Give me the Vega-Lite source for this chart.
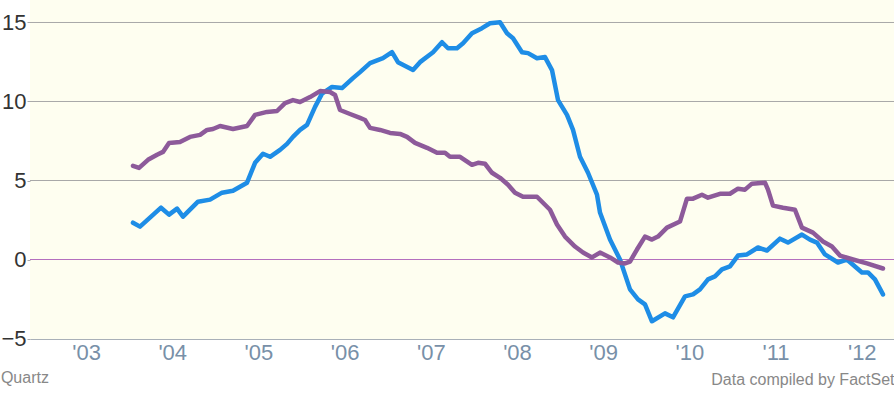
{
  "$schema": "https://vega.github.io/schema/vega-lite/v6.json",
  "width": 864,
  "height": 339,
  "autosize": "none",
  "padding": {"left": 30, "top": 0, "right": 0, "bottom": 57},
  "background": "white",
  "config": {
    "view": {"fill": "#fefef0", "stroke": null},
    "font": "Liberation Sans"
  },
  "title": {
    "text": "Quartz",
    "orient": "bottom",
    "anchor": "start",
    "frame": "bounds",
    "fontSize": 16,
    "fontWeight": "normal",
    "color": "#888888",
    "offset": -17
  },
  "encoding": {
    "y": {
      "field": "v",
      "type": "quantitative",
      "scale": {"domain": [-5.0316, 16.424], "nice": false, "zero": false},
      "axis": {
        "values": [-5, 0, 5, 10, 15],
        "format": "d",
        "grid": false,
        "domain": false,
        "ticks": true,
        "tickSize": 3,
        "tickColor": "#aaaaaa",
        "labelFontSize": 22,
        "labelColor": "#333333",
        "labelPadding": 1,
        "title": null
      }
    }
  },
  "layer": [
    {
      "data": {"values": [{"v": 5}, {"v": 10}, {"v": 15}]},
      "mark": {"type": "rule", "color": "#a8a8a8", "strokeWidth": 1}
    },
    {
      "data": {"values": [{"v": 0}]},
      "mark": {"type": "rule", "color": "#b46fbe", "strokeWidth": 1}
    },
    {
      "data": {
        "values": [
          {"t": 2003.545, "v": 2.33, "s": "A"},
          {"t": 2003.626, "v": 2.08, "s": "A"},
          {"t": 2003.870, "v": 3.28, "s": "A"},
          {"t": 2003.963, "v": 2.84, "s": "A"},
          {"t": 2004.056, "v": 3.22, "s": "A"},
          {"t": 2004.125, "v": 2.71, "s": "A"},
          {"t": 2004.299, "v": 3.66, "s": "A"},
          {"t": 2004.439, "v": 3.79, "s": "A"},
          {"t": 2004.578, "v": 4.23, "s": "A"},
          {"t": 2004.705, "v": 4.35, "s": "A"},
          {"t": 2004.868, "v": 4.86, "s": "A"},
          {"t": 2004.961, "v": 6.12, "s": "A"},
          {"t": 2005.053, "v": 6.69, "s": "A"},
          {"t": 2005.135, "v": 6.5, "s": "A"},
          {"t": 2005.251, "v": 6.94, "s": "A"},
          {"t": 2005.332, "v": 7.32, "s": "A"},
          {"t": 2005.401, "v": 7.76, "s": "A"},
          {"t": 2005.483, "v": 8.2, "s": "A"},
          {"t": 2005.564, "v": 8.52, "s": "A"},
          {"t": 2005.657, "v": 9.66, "s": "A"},
          {"t": 2005.738, "v": 10.5, "s": "A"},
          {"t": 2005.854, "v": 10.92, "s": "A"},
          {"t": 2005.970, "v": 10.85, "s": "A"},
          {"t": 2006.097, "v": 11.48, "s": "A"},
          {"t": 2006.179, "v": 11.86, "s": "A"},
          {"t": 2006.295, "v": 12.43, "s": "A"},
          {"t": 2006.445, "v": 12.74, "s": "A"},
          {"t": 2006.550, "v": 13.12, "s": "A"},
          {"t": 2006.619, "v": 12.49, "s": "A"},
          {"t": 2006.794, "v": 11.99, "s": "A"},
          {"t": 2006.875, "v": 12.49, "s": "A"},
          {"t": 2007.026, "v": 13.12, "s": "A"},
          {"t": 2007.130, "v": 13.75, "s": "A"},
          {"t": 2007.200, "v": 13.37, "s": "A"},
          {"t": 2007.304, "v": 13.37, "s": "A"},
          {"t": 2007.374, "v": 13.69, "s": "A"},
          {"t": 2007.478, "v": 14.32, "s": "A"},
          {"t": 2007.594, "v": 14.64, "s": "A"},
          {"t": 2007.687, "v": 14.95, "s": "A"},
          {"t": 2007.803, "v": 15.02, "s": "A"},
          {"t": 2007.884, "v": 14.32, "s": "A"},
          {"t": 2007.954, "v": 14.0, "s": "A"},
          {"t": 2008.058, "v": 13.12, "s": "A"},
          {"t": 2008.128, "v": 13.06, "s": "A"},
          {"t": 2008.232, "v": 12.74, "s": "A"},
          {"t": 2008.325, "v": 12.81, "s": "A"},
          {"t": 2008.406, "v": 11.99, "s": "A"},
          {"t": 2008.476, "v": 10.09, "s": "A"},
          {"t": 2008.580, "v": 9.15, "s": "A"},
          {"t": 2008.650, "v": 8.2, "s": "A"},
          {"t": 2008.731, "v": 6.5, "s": "A"},
          {"t": 2008.824, "v": 5.49, "s": "A"},
          {"t": 2008.928, "v": 4.1, "s": "A"},
          {"t": 2008.963, "v": 2.97, "s": "A"},
          {"t": 2009.079, "v": 1.26, "s": "A"},
          {"t": 2009.195, "v": 0.0, "s": "A"},
          {"t": 2009.311, "v": -1.89, "s": "A"},
          {"t": 2009.404, "v": -2.52, "s": "A"},
          {"t": 2009.485, "v": -2.84, "s": "A"},
          {"t": 2009.566, "v": -3.91, "s": "A"},
          {"t": 2009.717, "v": -3.41, "s": "A"},
          {"t": 2009.810, "v": -3.66, "s": "A"},
          {"t": 2009.949, "v": -2.33, "s": "A"},
          {"t": 2010.042, "v": -2.21, "s": "A"},
          {"t": 2010.123, "v": -1.89, "s": "A"},
          {"t": 2010.216, "v": -1.26, "s": "A"},
          {"t": 2010.297, "v": -1.07, "s": "A"},
          {"t": 2010.378, "v": -0.63, "s": "A"},
          {"t": 2010.471, "v": -0.44, "s": "A"},
          {"t": 2010.564, "v": 0.25, "s": "A"},
          {"t": 2010.668, "v": 0.32, "s": "A"},
          {"t": 2010.796, "v": 0.76, "s": "A"},
          {"t": 2010.900, "v": 0.57, "s": "A"},
          {"t": 2011.051, "v": 1.32, "s": "A"},
          {"t": 2011.144, "v": 1.07, "s": "A"},
          {"t": 2011.306, "v": 1.58, "s": "A"},
          {"t": 2011.399, "v": 1.26, "s": "A"},
          {"t": 2011.480, "v": 1.07, "s": "A"},
          {"t": 2011.573, "v": 0.32, "s": "A"},
          {"t": 2011.724, "v": -0.19, "s": "A"},
          {"t": 2011.828, "v": 0.0, "s": "A"},
          {"t": 2011.921, "v": -0.44, "s": "A"},
          {"t": 2012.002, "v": -0.82, "s": "A"},
          {"t": 2012.072, "v": -0.82, "s": "A"},
          {"t": 2012.153, "v": -1.26, "s": "A"},
          {"t": 2012.246, "v": -2.21, "s": "A"},

          {"t": 2003.545, "v": 5.93, "s": "B"},
          {"t": 2003.615, "v": 5.8, "s": "B"},
          {"t": 2003.719, "v": 6.31, "s": "B"},
          {"t": 2003.824, "v": 6.63, "s": "B"},
          {"t": 2003.893, "v": 6.81, "s": "B"},
          {"t": 2003.963, "v": 7.38, "s": "B"},
          {"t": 2004.090, "v": 7.44, "s": "B"},
          {"t": 2004.206, "v": 7.76, "s": "B"},
          {"t": 2004.323, "v": 7.89, "s": "B"},
          {"t": 2004.404, "v": 8.2, "s": "B"},
          {"t": 2004.473, "v": 8.26, "s": "B"},
          {"t": 2004.555, "v": 8.45, "s": "B"},
          {"t": 2004.705, "v": 8.26, "s": "B"},
          {"t": 2004.868, "v": 8.45, "s": "B"},
          {"t": 2004.961, "v": 9.15, "s": "B"},
          {"t": 2005.100, "v": 9.34, "s": "B"},
          {"t": 2005.216, "v": 9.4, "s": "B"},
          {"t": 2005.309, "v": 9.9, "s": "B"},
          {"t": 2005.401, "v": 10.09, "s": "B"},
          {"t": 2005.483, "v": 9.97, "s": "B"},
          {"t": 2005.599, "v": 10.28, "s": "B"},
          {"t": 2005.715, "v": 10.66, "s": "B"},
          {"t": 2005.831, "v": 10.6, "s": "B"},
          {"t": 2005.889, "v": 10.41, "s": "B"},
          {"t": 2005.947, "v": 9.46, "s": "B"},
          {"t": 2006.063, "v": 9.21, "s": "B"},
          {"t": 2006.179, "v": 8.96, "s": "B"},
          {"t": 2006.237, "v": 8.83, "s": "B"},
          {"t": 2006.295, "v": 8.33, "s": "B"},
          {"t": 2006.411, "v": 8.2, "s": "B"},
          {"t": 2006.527, "v": 8.01, "s": "B"},
          {"t": 2006.643, "v": 7.95, "s": "B"},
          {"t": 2006.724, "v": 7.76, "s": "B"},
          {"t": 2006.817, "v": 7.38, "s": "B"},
          {"t": 2006.956, "v": 7.07, "s": "B"},
          {"t": 2007.072, "v": 6.75, "s": "B"},
          {"t": 2007.165, "v": 6.75, "s": "B"},
          {"t": 2007.223, "v": 6.5, "s": "B"},
          {"t": 2007.339, "v": 6.5, "s": "B"},
          {"t": 2007.478, "v": 5.99, "s": "B"},
          {"t": 2007.548, "v": 6.12, "s": "B"},
          {"t": 2007.629, "v": 6.06, "s": "B"},
          {"t": 2007.710, "v": 5.49, "s": "B"},
          {"t": 2007.803, "v": 5.17, "s": "B"},
          {"t": 2007.896, "v": 4.73, "s": "B"},
          {"t": 2007.977, "v": 4.23, "s": "B"},
          {"t": 2008.070, "v": 3.97, "s": "B"},
          {"t": 2008.151, "v": 3.97, "s": "B"},
          {"t": 2008.232, "v": 3.97, "s": "B"},
          {"t": 2008.383, "v": 3.15, "s": "B"},
          {"t": 2008.464, "v": 2.21, "s": "B"},
          {"t": 2008.557, "v": 1.45, "s": "B"},
          {"t": 2008.673, "v": 0.82, "s": "B"},
          {"t": 2008.766, "v": 0.44, "s": "B"},
          {"t": 2008.870, "v": 0.13, "s": "B"},
          {"t": 2008.963, "v": 0.44, "s": "B"},
          {"t": 2009.079, "v": 0.13, "s": "B"},
          {"t": 2009.172, "v": -0.19, "s": "B"},
          {"t": 2009.253, "v": -0.25, "s": "B"},
          {"t": 2009.311, "v": -0.13, "s": "B"},
          {"t": 2009.392, "v": 0.63, "s": "B"},
          {"t": 2009.485, "v": 1.45, "s": "B"},
          {"t": 2009.566, "v": 1.26, "s": "B"},
          {"t": 2009.636, "v": 1.45, "s": "B"},
          {"t": 2009.740, "v": 2.02, "s": "B"},
          {"t": 2009.891, "v": 2.4, "s": "B"},
          {"t": 2009.972, "v": 3.85, "s": "B"},
          {"t": 2010.042, "v": 3.85, "s": "B"},
          {"t": 2010.146, "v": 4.1, "s": "B"},
          {"t": 2010.216, "v": 3.91, "s": "B"},
          {"t": 2010.355, "v": 4.16, "s": "B"},
          {"t": 2010.471, "v": 4.16, "s": "B"},
          {"t": 2010.564, "v": 4.48, "s": "B"},
          {"t": 2010.645, "v": 4.42, "s": "B"},
          {"t": 2010.726, "v": 4.8, "s": "B"},
          {"t": 2010.877, "v": 4.86, "s": "B"},
          {"t": 2010.912, "v": 4.42, "s": "B"},
          {"t": 2010.970, "v": 3.41, "s": "B"},
          {"t": 2011.086, "v": 3.28, "s": "B"},
          {"t": 2011.225, "v": 3.15, "s": "B"},
          {"t": 2011.306, "v": 2.02, "s": "B"},
          {"t": 2011.434, "v": 1.7, "s": "B"},
          {"t": 2011.550, "v": 1.14, "s": "B"},
          {"t": 2011.654, "v": 0.82, "s": "B"},
          {"t": 2011.747, "v": 0.25, "s": "B"},
          {"t": 2011.898, "v": 0.0, "s": "B"},
          {"t": 2012.060, "v": -0.25, "s": "B"},
          {"t": 2012.246, "v": -0.57, "s": "B"}
        ]
      },
      "mark": {"type": "line", "strokeWidth": 4.5, "strokeJoin": "round", "strokeCap": "round"},
      "encoding": {
        "x": {
          "field": "t",
          "type": "quantitative",
          "scale": {"domain": [2002.35, 2012.374], "nice": false, "zero": false},
          "axis": {
            "values": [2003, 2004, 2005, 2006, 2007, 2008, 2009, 2010, 2011, 2012],
            "format": "d",
            "labelExpr": "\"'\" + substring(datum.label, 2)",
            "grid": false,
            "ticks": false,
            "domain": true,
            "domainColor": "#a9b0b8",
            "domainWidth": 1,
            "labelFontSize": 22,
            "labelColor": "#7890a8",
            "labelPadding": 3,
            "labelFlush": false,
            "title": "Data compiled by FactSet",
            "titleAnchor": "end",
            "titleAlign": "right",
            "titleFontSize": 16,
            "titleFontWeight": "normal",
            "titleColor": "#888888",
            "titlePadding": 8
          }
        },
        "color": {
          "field": "s",
          "type": "nominal",
          "scale": {"domain": ["A", "B"], "range": ["#1e8de6", "#8d5a9a"]},
          "legend": null
        }
      }
    }
  ]
}
